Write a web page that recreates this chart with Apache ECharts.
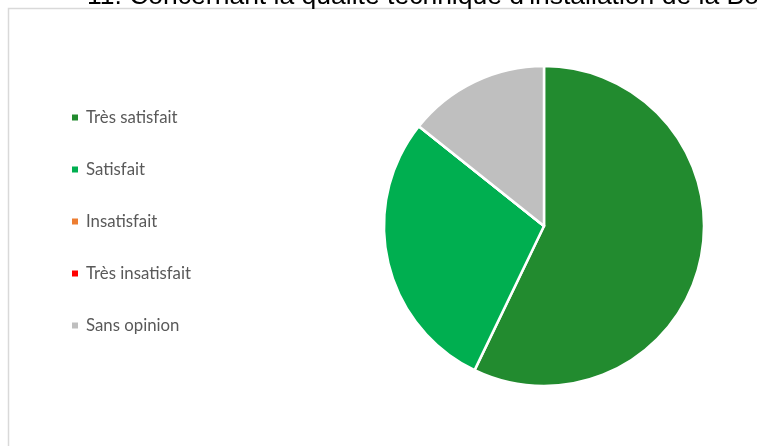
<!DOCTYPE html>
<html>
<head>
<meta charset="utf-8">
<script src="https://cdn.jsdelivr.net/npm/echarts@6/dist/echarts.min.js"></script>
<style>
html,body{margin:0;padding:0;background:#fff;}
#chart{width:757px;height:446px;}
</style>
</head>
<body>
<div id="chart"></div>
<script>
const titleText = "11. Concernant la qualité technique d'installation de la Borne ?";
const categories = ["Très satisfait", "Satisfait", "Insatisfait", "Très insatisfait", "Sans opinion"];
const values = [8, 4, 0, 0, 2];
const colors = ["#228B2F", "#00AF50", "#ED7D31", "#FF0000", "#BFBFBF"];

const chart = echarts.init(document.getElementById('chart'), null, {renderer: 'canvas'});
chart.setOption({
  animation: false,
  backgroundColor: '#ffffff',
  title: {
    text: titleText,
    left: 82,
    top: -22,
    textStyle: {fontFamily: 'Liberation Sans', fontSize: 26.5, fontWeight: 'normal', color: '#000000'}
  },
  graphic: [{
    type: 'rect',
    shape: {x: 8.5, y: 8.5, width: 800, height: 500},
    style: {fill: 'none', stroke: '#d9d9d9', lineWidth: 1.5},
    silent: true
  }],
  legend: {
    orient: 'vertical',
    left: 65,
    top: 104,
    itemWidth: 8,
    itemHeight: 8,
    itemGap: 35,
    icon: 'rect',
    data: categories,
    textStyle: {fontFamily: 'Lato', fontSize: 16.8, color: '#595959', lineHeight: 17, padding: [0, 0, 0, 2]}
  },
  series: [{
    type: 'pie',
    center: [544, 226],
    radius: [0, 160],
    startAngle: 90,
    clockwise: true,
    label: {show: false},
    labelLine: {show: false},
    itemStyle: {borderColor: '#ffffff', borderWidth: 2.5},
    emphasis: {disabled: true},
    data: categories.map((c, i) => ({name: c, value: values[i], itemStyle: {color: colors[i]}}))
  }]
});
</script>
</body>
</html>
